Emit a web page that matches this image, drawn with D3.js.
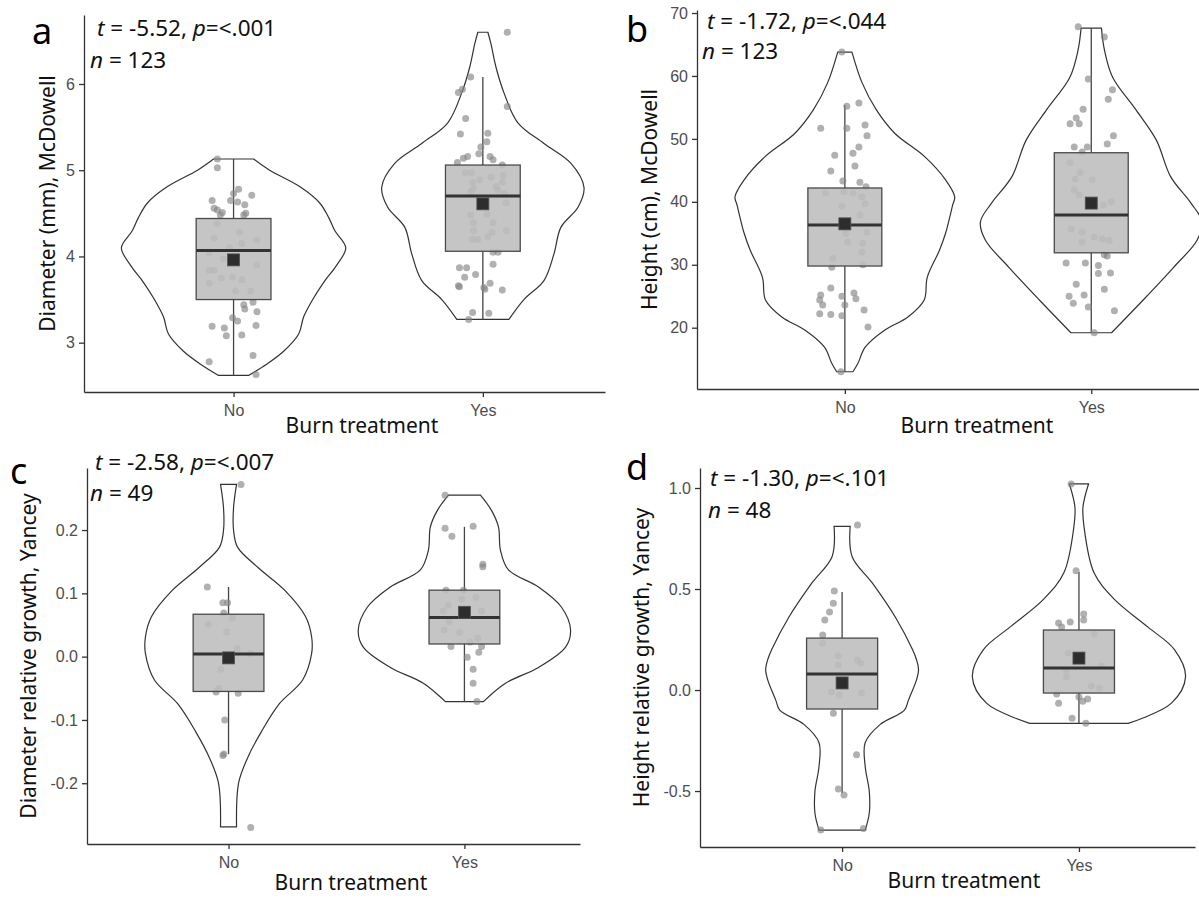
<!DOCTYPE html>
<html>
<head>
<meta charset="utf-8">
<script src="https://cdn.jsdelivr.net/npm/d3@7"></script>
<style>
  body { margin: 0; background: #fff; }
  svg { display: block; }
  .axis path, .axis line { stroke: #333; stroke-width: 1.3px; }
  .axis text { font-family: "Liberation Sans", Arial, sans-serif; font-size: 16px; fill: #4d4d4d; }
  .title { font-family: "Noto Sans", sans-serif; font-size: 21px; fill: #111; }
  .stat { font-family: "Noto Sans", sans-serif; font-size: 22.5px; fill: #111; }
  .letter { font-family: "Noto Sans", sans-serif; font-size: 36px; fill: #000; }
</style>
</head>
<body>
<svg id="chart" width="1199" height="898"></svg>
<script>
////////////////////////////////////////////////////////////////////////
// data
const groups = ["No", "Yes"];

// box stats: [lower whisker, q1, median, q3, upper whisker, mean]
// violins: [value, relative density]
// points: [value, jitter offset in category units]

// a) Diameter (mm), McDowell
const aTicks = [3, 4, 5, 6];
const aStat = ["-5.52", "<.001", "123"];
const aBoxNo = [2.62, 3.50, 4.07, 4.44, 5.13, 3.96];
const aBoxYes = [3.27, 4.06, 4.70, 5.06, 6.08, 4.61];
const aViolinNo = [[2.62,15],[2.75,33],[2.9,50],[3.1,65],[3.3,70],[3.5,79],[3.7,90],[3.9,103],[4.1,112],[4.3,101],[4.45,95],[4.62,86],[4.81,66],[5.0,36],[5.13,20]];
const aViolinYes = [[3.27,26],[3.5,41],[3.72,61],[4.03,71],[4.34,78],[4.57,95],[4.8,101],[5.08,88],[5.31,61],[5.55,35],[5.9,21],[6.2,13],[6.47,8],[6.6,5]];
const aPointsNo = [[5.13,-0.065],[5.03,-0.065],[4.78,0.02],[4.73,0],[4.71,0.073],[4.65,-0.086],[4.65,-0.012],[4.63,0.016],[4.60,0.045],[4.54,-0.065],[4.51,-0.045],[4.50,0.049],[4.56,-0.078],[4.48,-0.053],[4.48,0.041],[4.38,-0.065],[4.28,0.024],[4.21,-0.078],[4.19,0.094],[4.10,-0.016],[4.15,0.033],[4.04,-0.098],[3.97,-0.041],[3.90,0.094],[3.84,-0.098],[3.84,-0.078],[3.75,-0.049],[3.76,-0.004],[3.73,0.033],[3.69,-0.098],[3.60,0.008],[3.60,0.069],[3.44,0.041],[3.47,0.078],[3.39,0.045],[3.36,0.094],[3.29,-0.004],[3.25,0.016],[3.19,-0.086],[3.17,-0.037],[3.20,0.09],[3.08,-0.029],[3.09,0.033],[2.85,0.078],[2.78,-0.098],[2.63,0.09]];
const aPointsYes = [[6.60,0.098],[6.08,-0.049],[5.94,-0.082],[5.90,-0.098],[5.74,0.098],[5.60,-0.069],[5.42,-0.09],[5.43,0.02],[5.33,0.016],[5.27,-0.008],[5.19,-0.016],[5.16,0.029],[5.16,-0.061],[5.14,-0.078],[5.09,-0.102],[5.12,0.041],[5.06,0.078],[4.97,-0.069],[4.97,-0.045],[4.92,0.033],[4.94,0.082],[4.86,-0.041],[4.89,-0.012],[4.86,0.078],[4.81,0.053],[4.79,-0.037],[4.75,-0.049],[4.77,0.061],[4.73,0.086],[4.65,0.012],[4.62,0.094],[4.48,-0.049],[4.49,0.016],[4.39,-0.037],[4.39,0.041],[4.30,-0.037],[4.30,0.094],[4.28,0.037],[4.23,0.02],[4.20,-0.041],[4.20,-0.02],[4.05,0.041],[4.05,0.061],[3.91,0.041],[3.87,-0.094],[3.87,-0.065],[3.76,-0.073],[3.79,-0.029],[3.69,0.029],[3.66,-0.098],[3.65,-0.094],[3.64,0.004],[3.62,0.008],[3.61,0.078],[3.35,-0.041],[3.34,0.024],[3.27,-0.057]];

// b) Height (cm), McDowell
const bTicks = [20, 30, 40, 50, 60, 70];
const bStat = ["-1.72", "<.044", "123"];
const bBoxNo = [13.0, 29.8, 36.3, 42.2, 55.4, 36.5];
const bBoxYes = [19.2, 31.9, 37.9, 47.8, 67.6, 39.8];
const bViolinNo = [[13.0,8],[14.4,13],[16.9,20],[19.6,39],[21.7,62],[24.4,78],[28,81],[32.3,93],[35,99],[39.5,106],[40.8,108],[43.5,99],[47.1,79],[50.9,49],[54.6,31],[58.9,17],[63.8,7]];
const bViolinYes = [[19.2,20],[24.4,51],[29.6,81],[33.9,104],[36.8,109],[39.8,98],[44,78],[49.8,64],[54.6,44],[59.8,21],[64.1,13],[67.6,10]];
const bPointsNo = [[63.8,-0.012],[55.7,0.057],[55.2,0.008],[51.7,-0.098],[51.7,0.008],[52.2,0.082],[50.5,0.09],[48.7,0.057],[47.4,-0.041],[47.7,0.033],[45.7,0.041],[44.9,-0.057],[43.3,-0.008],[43.1,0.061],[42.4,0.086],[41.4,-0.078],[41.6,-0.004],[41.4,0.033],[40.8,0.069],[39.7,0.082],[37.9,0.061],[39.3,-0.012],[35.2,0.09],[35.0,0.004],[33.6,0.012],[33.4,0.073],[32.0,0.069],[31.0,-0.049],[30.0,0.073],[29.6,-0.053],[26.3,-0.057],[25.2,-0.098],[25.5,0.037],[25.0,-0.012],[24.6,0.045],[24.4,-0.102],[23.6,-0.09],[23.6,0],[22.8,0.078],[22.2,-0.102],[22.1,-0.057],[21.9,-0.012],[20.1,0.094],[13.0,-0.016]];
const bPointsYes = [[67.8,-0.053],[66.2,0.053],[59.5,-0.012],[57.8,0.086],[56.3,0.069],[54.7,-0.033],[53.3,-0.061],[52.4,-0.086],[52.4,-0.049],[50.5,0.09],[49.2,0.065],[48.7,-0.069],[48.7,-0.016],[47.9,-0.037],[46.2,-0.086],[44.7,-0.045],[43.5,0.004],[43.6,-0.065],[41.9,-0.069],[41.1,-0.049],[40.0,0.082],[39.5,0.049],[35.7,-0.082],[35.2,-0.037],[34.4,0.012],[34.1,0.045],[33.9,0.073],[33.6,-0.037],[31.6,0.053],[31.4,0.065],[30.3,-0.102],[30.3,-0.024],[29.9,0.029],[28.6,0.029],[28.7,0.078],[26.9,-0.061],[26.1,0.053],[25.0,-0.09],[25.2,-0.029],[23.9,-0.073],[23.3,-0.012],[22.7,0.094],[19.2,0.012]];

// c) Diameter relative growth, Yancey
const cTicks = [-0.2, -0.1, 0.0, 0.1, 0.2];
const cStat = ["-2.58", "<.007", "49"];
const cBoxNo = [-0.154, -0.055, 0.004, 0.067, 0.11, -0.002];
const cBoxYes = [-0.071, 0.02, 0.062, 0.105, 0.205, 0.07];
const cViolinNo = [[-0.269,8],[-0.2,10],[-0.16,19],[-0.118,33],[-0.074,51],[-0.037,74],[0.005,83],[0.031,83],[0.063,77],[0.105,56],[0.14,30],[0.173,9],[0.2,5],[0.235,5],[0.272,8]];
const cViolinYes = [[-0.071,19],[-0.042,41],[-0.017,74],[0.015,101],[0.042,106],[0.078,97],[0.11,74],[0.137,44],[0.168,36],[0.205,34],[0.231,27],[0.255,16]];
const cPointsNo = [[0.272,0.053],[0.110,-0.09],[0.085,-0.024],[0.085,-0.004],[0.069,-0.02],[0.051,-0.086],[0.061,0.016],[0.039,-0.008],[0.013,0.037],[0.005,0.094],[-0.005,0.008],[-0.020,-0.033],[-0.050,-0.041],[-0.056,-0.053],[-0.058,0.041],[-0.100,-0.016],[-0.154,-0.02],[-0.156,-0.024],[-0.270,0.094]];
const cPointsYes = [[0.255,-0.082],[0.203,-0.082],[0.206,0.037],[0.190,-0.053],[0.146,0.078],[0.142,0.078],[0.105,-0.078],[0.105,-0.004],[0.091,-0.012],[0.094,0.049],[0.081,-0.069],[0.072,-0.09],[0.072,0.073],[0.055,-0.065],[0.042,-0.086],[0.038,-0.02],[0.023,0.024],[0.029,0.057],[0.016,-0.057],[0.016,0.073],[0.007,0.061],[-0.001,0.012],[-0.020,0.037],[-0.042,0.037],[-0.071,0.053]];

// d) Height relative growth, Yancey
const dTicks = [-0.5, 0.0, 0.5, 1.0];
const dStat = ["-1.30", "<.101", "48"];
const dBoxNo = [-0.51, -0.094, 0.079, 0.257, 0.485, 0.035];
const dBoxYes = [-0.165, -0.015, 0.109, 0.297, 0.584, 0.158];
const dViolinNo = [[-0.693,23],[-0.61,27],[-0.5,27],[-0.38,23],[-0.26,23],[-0.17,38],[-0.1,62],[-0.05,66],[0.05,74],[0.1,76],[0.15,74],[0.2,70],[0.36,53],[0.53,30],[0.66,10],[0.81,8]];
const dViolinYes = [[-0.165,49],[-0.065,92],[0.065,106],[0.2,95],[0.31,69],[0.45,35],[0.58,15],[0.81,5],[0.906,4],[1.02,9.5]];
const dPointsNo = [[0.817,0.065],[0.490,-0.033],[0.430,-0.037],[0.386,-0.053],[0.347,-0.073],[0.272,-0.082],[0.232,-0.082],[0.168,-0.016],[0.149,0.065],[0.134,0.078],[0.124,-0.016],[-0.010,-0.045],[-0.025,-0.012],[-0.015,0.082],[-0.115,-0.037],[-0.320,0.061],[-0.490,-0.016],[-0.520,0.008],[-0.693,-0.09],[-0.686,0.09]];
const dPointsYes = [[1.02,-0.033],[0.59,-0.012],[0.376,0.02],[0.347,0.02],[0.332,-0.086],[0.337,-0.037],[0.312,-0.073],[0.277,0.065],[0.183,-0.045],[0.173,0.008],[0.099,-0.053],[0.064,-0.053],[0.119,0.094],[0.020,0.053],[0.010,0.086],[-0.020,-0.094],[-0.065,-0.086],[-0.035,0],[-0.055,0.016],[-0.045,0.037],[-0.140,-0.029],[-0.165,0.029]];

////////////////////////////////////////////////////////////////////////
// panel layout
const fmt0 = d => String(d);
const fmt1 = d => d.toFixed(1);

const panels = [
  { letter: "a", yLabel: "Diameter (mm), McDowell", ticks: aTicks, fmt: fmt0, stat: aStat,
    domain: [2.428, 6.8], boxes: [aBoxNo, aBoxYes], violins: [aViolinNo, aViolinYes], points: [aPointsNo, aPointsYes],
    left: 84, right: 605, top: 15, bottom: 392, letterPos: [32, 44], tPos: [97, 36], nPos: [90, 68],
    xTitle: [362, 433], yTitleX: 47 },
  { letter: "b", yLabel: "Height (cm), McDowell", ticks: bTicks, fmt: fmt0, stat: bStat,
    domain: [10.26, 70.48], boxes: [bBoxNo, bBoxYes], violins: [bViolinNo, bViolinYes], points: [bPointsNo, bPointsYes],
    left: 697, right: 1212, top: 10, bottom: 389, letterPos: [626, 42], tPos: [707, 29], nPos: [702, 59],
    xTitle: [977, 433], yTitleX: 649 },
  { letter: "c", yLabel: "Diameter relative growth, Yancey", ticks: cTicks, fmt: fmt1, stat: cStat,
    domain: [-0.296, 0.298], boxes: [cBoxNo, cBoxYes], violins: [cViolinNo, cViolinYes], points: [cPointsNo, cPointsYes],
    left: 87, right: 580, top: 468, bottom: 844, letterPos: [10, 484], tPos: [95, 470], nPos: [90, 501],
    xTitle: [351, 890], yTitleX: 28 },
  { letter: "d", yLabel: "Height relative growth, Yancey", ticks: dTicks, fmt: fmt1, stat: dStat,
    domain: [-0.777, 1.099], boxes: [dBoxNo, dBoxYes], violins: [dViolinNo, dViolinYes], points: [dPointsNo, dPointsYes],
    left: 700, right: 1195, top: 468, bottom: 847, letterPos: [626, 480], tPos: [710, 486], nPos: [708, 518],
    xTitle: [964, 888], yTitleX: 641 }
];

const svg = d3.select("#chart");

function drawPanel(p) {
  const g = svg.append("g");
  const x = d3.scaleLinear().domain([0.4, 2.49]).range([p.left, p.right]);
  const y = d3.scaleLinear().domain(p.domain).range([p.bottom, p.top]);
  const maxD = d3.max(p.violins.flat(), d => d[1]);

  groups.forEach(function (grp, i) {
    const c = i + 1;
    const box = p.boxes[i];

    // violin
    const area = d3.area()
      .curve(d3.curveCatmullRom.alpha(0.5))
      .y(d => y(d[0]))
      .x0(d => x(c - 0.45 * d[1] / maxD))
      .x1(d => x(c + 0.45 * d[1] / maxD));
    g.append("path").datum(p.violins[i])
      .attr("d", area)
      .attr("fill", "#fff")
      .attr("stroke", "#333")
      .attr("stroke-width", 1.2);

    // whiskers
    g.append("line")
      .attr("x1", x(c)).attr("x2", x(c))
      .attr("y1", y(box[0])).attr("y2", y(box[1]))
      .attr("stroke", "#444").attr("stroke-width", 1.3);
    g.append("line")
      .attr("x1", x(c)).attr("x2", x(c))
      .attr("y1", y(box[3])).attr("y2", y(box[4]))
      .attr("stroke", "#444").attr("stroke-width", 1.3);

    // jittered points
    g.append("g").selectAll("circle")
      .data(p.points[i])
      .enter()
      .append("circle")
      .attr("cx", d => x(c + d[1]))
      .attr("cy", d => y(d[0]))
      .attr("r", 3.5)
      .attr("fill", "#858585")
      .attr("opacity", 0.65);

    // box
    g.append("rect")
      .attr("x", x(c - 0.15))
      .attr("y", y(box[3]))
      .attr("width", x(c + 0.15) - x(c - 0.15))
      .attr("height", y(box[1]) - y(box[3]))
      .attr("fill", "#bdbdbd")
      .attr("fill-opacity", 0.88)
      .attr("stroke", "#4a4a4a")
      .attr("stroke-width", 1.3);

    // median
    g.append("line")
      .attr("x1", x(c - 0.15)).attr("x2", x(c + 0.15))
      .attr("y1", y(box[2])).attr("y2", y(box[2]))
      .attr("stroke", "#333").attr("stroke-width", 3);

    // mean
    g.append("rect")
      .attr("x", x(c) - 6).attr("y", y(box[5]) - 6)
      .attr("width", 12).attr("height", 12)
      .attr("fill", "#2d2d2d")
      .attr("stroke", "#555").attr("stroke-width", 0.8);
  });

  // axes
  g.append("g").attr("class", "axis")
    .attr("transform", "translate(" + p.left + ",0)")
    .call(d3.axisLeft(y).tickValues(p.ticks).tickFormat(p.fmt).tickSize(5).tickSizeOuter(0).tickPadding(4));

  g.append("g").attr("class", "axis")
    .attr("transform", "translate(0," + p.bottom + ")")
    .call(d3.axisBottom(x).tickValues([1, 2]).tickFormat(d => groups[d - 1]).tickSize(5).tickSizeOuter(0).tickPadding(8));

  // titles
  g.append("text").attr("class", "title")
    .attr("x", p.xTitle[0]).attr("y", p.xTitle[1])
    .attr("text-anchor", "middle")
    .text("Burn treatment");

  g.append("text").attr("class", "title")
    .attr("transform", "translate(" + p.yTitleX + "," + ((p.top + p.bottom) / 2) + ") rotate(-90)")
    .attr("text-anchor", "middle")
    .attr("dy", "0.36em")
    .text(p.yLabel);

  // panel letter
  g.append("text").attr("class", "letter")
    .attr("x", p.letterPos[0]).attr("y", p.letterPos[1])
    .text(p.letter);

  // statistics
  const t = g.append("text").attr("class", "stat")
    .attr("x", p.tPos[0]).attr("y", p.tPos[1]);
  t.append("tspan").attr("font-style", "italic").text("t");
  t.append("tspan").text(" = " + p.stat[0] + ", ");
  t.append("tspan").attr("font-style", "italic").text("p");
  t.append("tspan").text("=" + p.stat[1]);

  const n = g.append("text").attr("class", "stat")
    .attr("x", p.nPos[0]).attr("y", p.nPos[1]);
  n.append("tspan").attr("font-style", "italic").text("n");
  n.append("tspan").text(" = " + p.stat[2]);
}

panels.forEach(drawPanel);
</script>
</body>
</html>
